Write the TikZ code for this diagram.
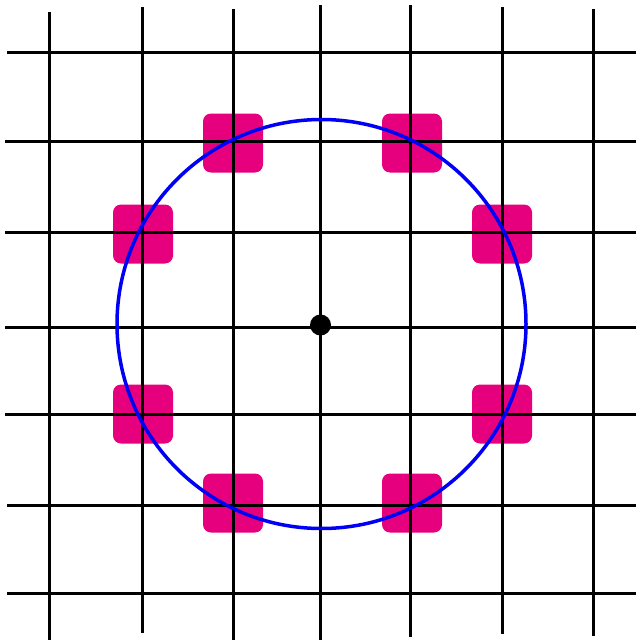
\documentclass[tikz,border=0pt]{standalone}
\definecolor{pinkbox}{RGB}{230,0,126}
\definecolor{ringblue}{RGB}{0,0,245}
\tikzset{
  pad/.style={fill=pinkbox, draw=none, rounded corners=8pt, minimum width=60pt, minimum height=59pt, inner sep=0pt},
  gridline/.style={black, line width=3pt},
  ring/.style={ringblue, line width=3.5pt},
  centredot/.style={circle, fill=black, minimum size=21pt, inner sep=0pt}
}
\begin{document}
\begin{tikzpicture}[x=1pt,y=-1pt]
\useasboundingbox (0,0) rectangle (636,642);
% pink pads
\node[pad] (p1) at (233,143) {};
\node[pad] (p2) at (412,143) {};
\node[pad] (p3) at (143,234) {};
\node[pad] (p4) at (502,234) {};
\node[pad] (p5) at (143,414) {};
\node[pad] (p6) at (502,414) {};
\node[pad] (p7) at (233,503) {};
\node[pad] (p8) at (412,503) {};
% vertical lines
\draw[gridline] (49,12) -- (49,640);
\draw[gridline] (142,7) -- (142,633);
\draw[gridline] (233,9) -- (233,640);
\draw[gridline] (320,5) -- (320,640);
\draw[gridline] (410,5) -- (410,637);
\draw[gridline] (502,7) -- (502,634);
\draw[gridline] (593,9) -- (593,636);
% horizontal lines
\draw[gridline] (7,53) -- (636,53);
\draw[gridline] (5,141) -- (636,141);
\draw[gridline] (5,232) -- (636,232);
\draw[gridline] (5,327) -- (636,327);
\draw[gridline] (5,414) -- (636,414);
\draw[gridline] (7,505) -- (636,505);
\draw[gridline] (7,593) -- (636,593);
% circle
\draw[ring] (321.5,324) circle[radius=204.5pt];
% centre dot
\node[centredot] (c) at (320.5,325) {};
\end{tikzpicture}
\end{document}
